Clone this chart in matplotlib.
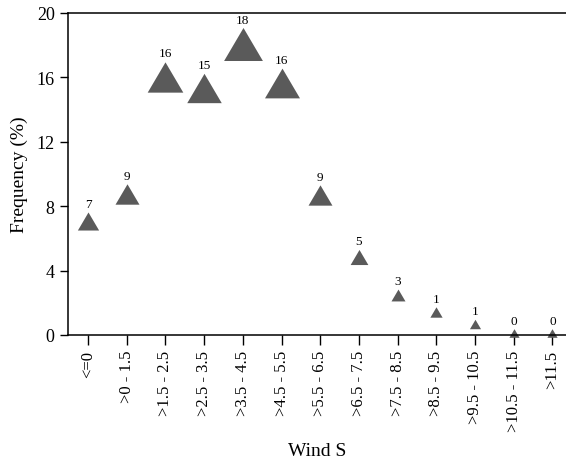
import numpy as np
import matplotlib.pyplot as plt

# wind speed classes and frequency (%)
categories = ['<=0', '>0 - 1.5', '>1.5 - 2.5', '>2.5 - 3.5', '>3.5 - 4.5', '>4.5 - 5.5',
              '>5.5 - 6.5', '>6.5 - 7.5', '>7.5 - 8.5', '>8.5 - 9.5', '>9.5 - 10.5',
              '>10.5 - 11.5', '>11.5']
freq = [7.05, 8.75, 16.05, 15.35, 18.05, 15.65, 8.7, 4.85, 2.5, 1.4, 0.7, 0.1, 0.1]
labels = ['7', '9', '16', '15', '18', '16', '9', '5', '3', '1', '1', '0', '0']

plt.rcParams['font.family'] = ['Liberation Serif', 'DejaVu Serif']

fig = plt.figure(figsize=(5.66, 4.64), dpi=100)
ax = fig.add_axes([0.120, 0.276, 0.88, 0.694])

# wide triangle, scaled with the value
tri = [(0, 0.85), (-1, -0.85), (1, -0.85)]
x = np.arange(len(categories))
for xi, v, lab in zip(x, freq, labels):
    ms = 7.2 + 1.15 * v
    ax.plot(xi, v, linestyle='none', marker=tri, markersize=ms,
            color='#5a5a5a', markeredgewidth=0, clip_on=False)
    ax.annotate(lab, (xi, v), xytext=(0, 0.425 * ms + 1.5), textcoords='offset points',
                ha='center', va='bottom', fontsize=9.5)

ax.set_xlim(-0.52, 12.35)
ax.set_ylim(0, 20)
ax.set_yticks([0, 4, 8, 12, 16, 20])
ax.set_xticks(x)
ax.set_xticklabels(categories, rotation=90, fontsize=12)
ax.tick_params(axis='y', labelsize=13, length=6, width=1, direction='out')
ax.tick_params(axis='x', length=7, width=1, direction='out')
ax.spines['right'].set_visible(False)
for s in ['left', 'top', 'bottom']:
    ax.spines[s].set_linewidth(1.1)

ax.set_xlabel('Wind S', fontsize=14, labelpad=8)
ax.set_ylabel('Frequency (%)', fontsize=14, labelpad=6)

fig.savefig('out.png', dpi=100)
